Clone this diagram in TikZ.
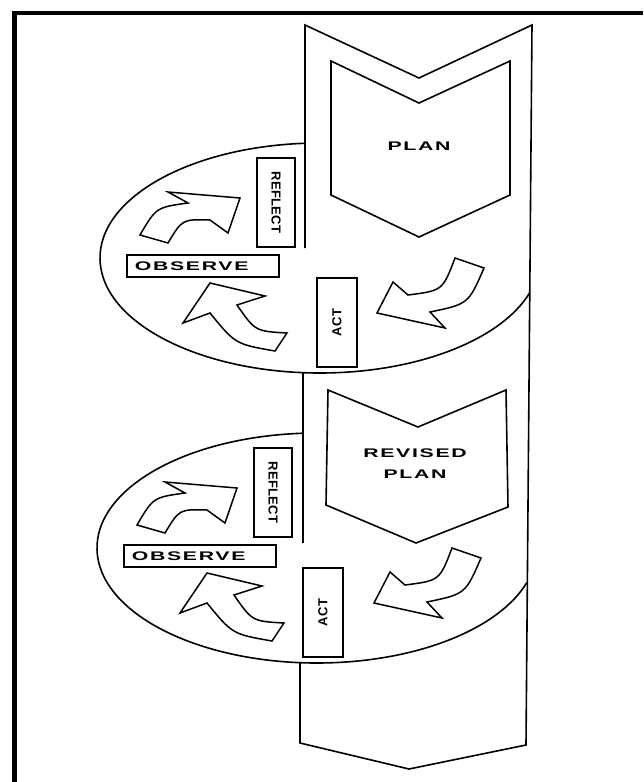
\documentclass[tikz,border=0pt]{standalone}
\usepackage{graphicx}
\usepackage{fontspec}
\setsansfont{Liberation Sans}
\newfontfamily\widefont[LetterSpace=8]{Liberation Sans}
\newfontfamily\tightfont[LetterSpace=2]{Liberation Sans}
\newcommand\widetext[1]{\scalebox{1.7}[1]{#1}}
\begin{document}
\begin{tikzpicture}[x=1pt,y=-1pt,line width=1.6pt,line join=miter,
 widelabel/.style={font=\widefont\bfseries\fontsize{12.5}{21}\selectfont,align=center},
 tightlabel/.style={font=\tightfont\bfseries\fontsize{13}{14}\selectfont},
 labelbox/.style={draw,inner sep=0pt},
 blockarrow/.style={draw,fill=white,line width=1.5pt}]
 \useasboundingbox (0,0) rectangle (643,782);
 % frame
 \draw[line width=4.5pt] (14.5,782) -- (14.5,13) -- (643,13);
 % strip
 \draw (305,248) -- (305,25) -- (419,78) -- (532,25) -- (526,745)
  -- (409,769) -- (300,743) -- (300,663);
 \draw (303,373) -- (303,543);
 % plans
 \draw (331,61) -- (419,103) -- (510,61) -- (510,195) -- (419,237)
  -- (331,195) -- cycle;
 \node[widelabel] (plan) at (419,146) {\widetext{PLAN}};
 \draw (328,390) -- (418,427) -- (506,390) -- (508,507) -- (416,543)
  -- (326,505) -- cycle;
 \node[widelabel] (revplan) at (415,464) {\widetext{REVISED}\\\widetext{PLAN}};
 % the two loops
 \foreach \dx/\dy/\ax/\i in {0/0/337/1,-3/290/326/2}{
  \begin{scope}[shift={(\dx,\dy)}]
   \draw (320,258) ++(266.1:220 and 115)
    arc[start angle=266.1,end angle=17.5,x radius=220,y radius=115];
   \node[labelbox,tightlabel,rotate=-90,minimum width=89,minimum height=38]
    (reflect\i) at (276,202.5) {REFLECT};
   \node[labelbox,widelabel,anchor=west,minimum width=152,minimum height=22]
    (observe\i) at (126,266) {\makebox[136pt][l]{\widetext{OBSERVE}}};
   \node[labelbox,tightlabel,rotate=90,minimum width=89,minimum height=40]
    (act\i) at (\ax,322.5) {ACT};
   \draw[blockarrow] (240,198) -- (168,192) -- (188,203)
    .. controls (156.2,207.4) .. (140,235) -- (168,243)
    .. controls (182.3,219.2) .. (210,220) -- (228,233) -- cycle;
   \draw[blockarrow] (210,283) -- (183,323) -- (210,313)
    .. controls (235.4,344.1) .. (275,351) -- (287,333)
    .. controls (255.2,331.2) .. (237,305) -- (265,296) -- cycle;
   \draw[blockarrow] (377,313) -- (393,282) -- (408,295)
    .. controls (442.6,290.6) .. (455,258) -- (484,268)
    .. controls (468.4,304) .. (430,312) -- (445,328) -- cycle;
  \end{scope}
 }
\end{tikzpicture}
\end{document}
